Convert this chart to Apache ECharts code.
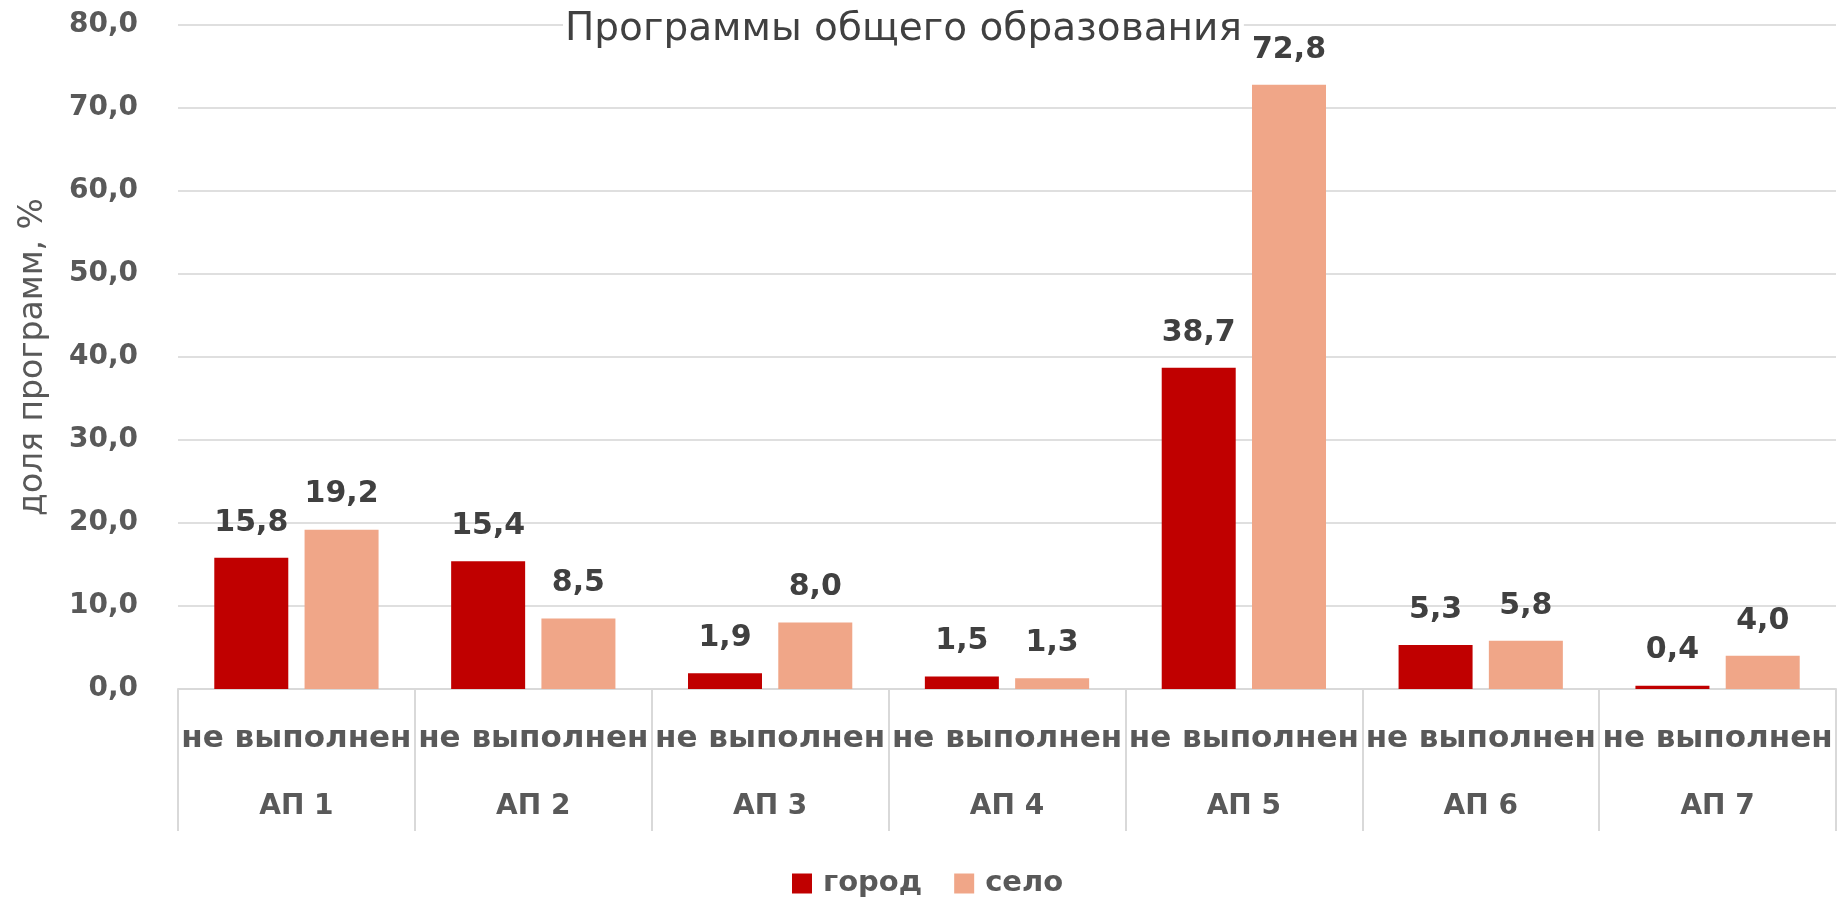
<!DOCTYPE html>
<html>
<head>
<meta charset="utf-8">
<script src="https://cdn.jsdelivr.net/npm/echarts@6/dist/echarts.min.js"></script>
<style>
html,body{margin:0;padding:0;background:#fff;}
#chart{width:1837px;height:897px;}
</style>
</head>
<body>
<div id="chart"></div>
<script>
const titleText = 'Программы общего образования';
const categories = ['АП 1', 'АП 2', 'АП 3', 'АП 4', 'АП 5', 'АП 6', 'АП 7'];
const subCategories = ['не выполнен', 'не выполнен', 'не выполнен', 'не выполнен', 'не выполнен', 'не выполнен', 'не выполнен'];
const seriesNames = ['город', 'село'];
const gorod = [15.8, 15.4, 1.9, 1.5, 38.7, 5.3, 0.4];
const selo = [19.2, 8.5, 8.0, 1.3, 72.8, 5.8, 4.0];
const yTicks = {min: 0, max: 80, interval: 10};
const yAxisName = 'доля программ, %';

const fmt = v => Number(v).toFixed(1).replace('.', ',');
const chart = echarts.init(document.getElementById('chart'), null, {renderer: 'canvas'});
const labelStyle = {
  show: true, position: 'top', distance: 20,
  fontFamily: 'DejaVu Sans', fontWeight: 'bold', fontSize: 30, color: '#404040',
  formatter: p => fmt(p.value)
};
chart.setOption({
  animation: false,
  backgroundColor: '#ffffff',
  title: {
    text: titleText, left: 563, top: 8,
    backgroundColor: '#ffffff', padding: [2, 2, 2, 2],
    textStyle: {fontFamily: 'DejaVu Sans', fontWeight: 'normal', fontSize: 39, color: '#404040'}
  },
  legend: {
    data: seriesNames, left: 787, top: 864, itemWidth: 20, itemHeight: 20, itemGap: 32,
    icon: 'rect',
    textStyle: {fontFamily: 'DejaVu Sans', fontWeight: 'bold', fontSize: 29, color: '#595959', padding: [0, 0, 0, 6]}
  },
  grid: {left: 178, right: 1, top: 25, bottom: 208, containLabel: false, outerBoundsMode: 'none'},
  xAxis: {
    type: 'category', data: categories,
    axisLine: {show: true, lineStyle: {color: '#d9d9d9', width: 2}},
    axisTick: {show: true, interval: 0, length: 142, lineStyle: {color: '#d9d9d9', width: 2}},
    axisLabel: {
      interval: 0, margin: 16,
      formatter: (v, i) => '{a|' + subCategories[i] + '}\n{b|' + v + '}',
      rich: {
        a: {fontFamily: 'DejaVu Sans', fontWeight: 'bold', fontSize: 31, color: '#595959', lineHeight: 68},
        b: {fontFamily: 'DejaVu Sans', fontWeight: 'bold', fontSize: 28, color: '#595959', lineHeight: 68}
      }
    }
  },
  yAxis: {
    type: 'value', min: yTicks.min, max: yTicks.max, interval: yTicks.interval,
    name: yAxisName, nameLocation: 'middle', nameGap: 128,
    nameTextStyle: {fontFamily: 'DejaVu Sans', fontSize: 33, color: '#595959'},
    axisLine: {show: false}, axisTick: {show: false},
    axisLabel: {margin: 40, fontFamily: 'DejaVu Sans', fontWeight: 'bold', fontSize: 28, color: '#595959', formatter: v => fmt(v)},
    splitLine: {show: true, lineStyle: {color: '#d4d4d4', width: 1.5}}
  },
  series: [
    {name: seriesNames[0], type: 'bar', data: gorod, barWidth: 74, barGap: '22%', itemStyle: {color: '#C00000'}, label: labelStyle},
    {name: seriesNames[1], type: 'bar', data: selo, barWidth: 74, itemStyle: {color: '#F0A688'}, label: labelStyle}
  ]
});
</script>
</body>
</html>
